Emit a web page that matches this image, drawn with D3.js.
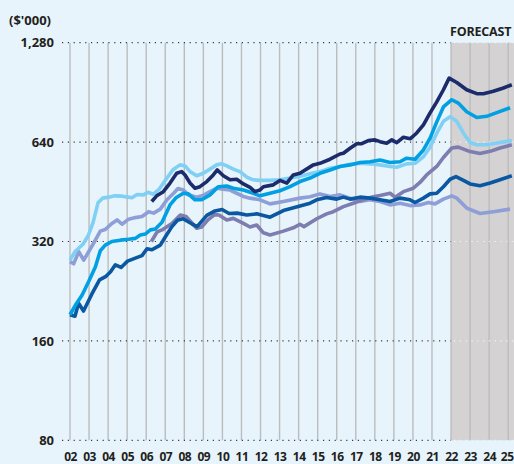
<!DOCTYPE html>
<html>
<head>
<meta charset="utf-8">
<script src="https://cdn.jsdelivr.net/npm/d3@7"></script>
<style>
  html, body { margin:0; padding:0; background:#e8f4fc; }
  svg text { font-family:"Open Sans", "DejaVu Sans", sans-serif; font-weight:700; fill:#231f20; }
</style>
</head>
<body>
<div id="chart"></div>
<script>
// values, [year, $'000]
var years=d3.range(2002,2026);
var yTicks=[80,160,320,640,1280];
var forecastStart=2022;

var navy=[[2006.29,423],[2006.55,440],[2006.9,453],[2007.25,481],[2007.6,515],[2007.86,521],[2008.04,509],[2008.3,481],[2008.56,464],[2008.82,469],[2009.18,486],[2009.52,509],[2009.73,527],[2010.05,506],[2010.4,492],[2010.75,494],[2011.1,478],[2011.45,467],[2011.71,453],[2011.97,458],[2012.15,469],[2012.67,475],[2013.02,490],[2013.38,481],[2013.72,509],[2014.07,515],[2014.77,546],[2015.12,552],[2015.65,568],[2016.17,589],[2016.35,592],[2016.7,613],[2017.05,633],[2017.31,633],[2017.66,647],[2018.01,650],[2018.27,642],[2018.62,635],[2018.89,650],[2019.15,638],[2019.5,662],[2019.85,655],[2020.2,682],[2020.55,722],[2020.9,785],[2021.25,847],[2021.6,922],[2021.9,1000],[2022.3,970],[2022.82,922],[2023.35,897],[2023.7,897],[2024.22,912],[2024.75,933],[2025.19,955]];

var brightBlue=[[2002,192],[2002.28,205],[2002.63,220],[2002.98,242],[2003.33,268],[2003.59,300],[2003.85,312],[2004.2,320],[2004.64,323],[2005.08,325],[2005.43,327],[2005.69,335],[2005.95,337],[2006.22,347],[2006.48,349],[2006.83,366],[2007.25,413],[2007.56,434],[2007.95,448],[2008.21,446],[2008.56,428],[2008.91,428],[2009.35,443],[2009.78,469],[2010.23,471],[2010.57,464],[2011.1,458],[2011.62,448],[2011.97,440],[2012.5,448],[2013.02,456],[2013.55,469],[2014.07,486],[2014.6,498],[2015.12,515],[2015.65,527],[2016.17,540],[2016.7,546],[2017.22,555],[2017.75,558],[2018.27,565],[2018.8,555],[2019.32,558],[2019.67,572],[2020.11,568],[2020.55,606],[2020.9,658],[2021.25,737],[2021.6,818],[2022.04,860],[2022.38,840],[2022.82,791],[2023.35,760],[2023.87,766],[2024.4,786],[2025.1,813]];

var skyBlue=[[2002,281],[2002.28,299],[2002.68,314],[2002.95,333],[2003.21,365],[2003.47,419],[2003.71,433],[2004.03,436],[2004.36,440],[2004.73,439],[2005.07,436],[2005.25,434],[2005.52,444],[2005.86,443],[2006.09,451],[2006.38,445],[2006.67,460],[2007.04,494],[2007.42,529],[2007.77,546],[2008.04,542],[2008.3,521],[2008.65,506],[2009,515],[2009.35,530],[2009.7,546],[2009.96,550],[2010.23,542],[2010.57,530],[2010.92,521],[2011.28,501],[2011.62,492],[2011.97,490],[2012.5,490],[2013.02,492],[2013.55,498],[2014.07,504],[2014.6,513],[2015.12,521],[2015.65,533],[2016.17,540],[2016.7,548],[2017.22,552],[2017.75,550],[2018.27,546],[2018.8,540],[2019.15,537],[2019.67,550],[2020.11,552],[2020.55,578],[2020.9,618],[2021.25,681],[2021.6,740],[2021.95,764],[2022.3,740],[2022.65,681],[2023,638],[2023.35,628],[2023.87,628],[2024.57,638],[2025.19,647]];

var periwinkle=[[2002,278],[2002.19,274],[2002.46,298],[2002.72,281],[2002.98,298],[2003.33,323],[2003.59,344],[2003.85,348],[2004.2,363],[2004.47,372],[2004.73,361],[2005.08,374],[2005.43,378],[2005.78,381],[2006.13,394],[2006.39,390],[2006.74,401],[2007.09,428],[2007.44,448],[2007.67,463],[2007.95,458],[2008.21,443],[2008.65,436],[2008.98,441],[2009.35,453],[2009.7,464],[2010.05,461],[2010.4,458],[2010.75,448],[2011.1,438],[2011.45,433],[2011.97,428],[2012.5,416],[2013.2,423],[2014.07,433],[2014.6,437],[2015.12,446],[2015.65,438],[2016.17,443],[2016.7,433],[2017.22,423],[2017.75,428],[2018.27,423],[2018.8,413],[2019.32,418],[2019.85,411],[2020.37,413],[2020.81,420],[2021.16,416],[2021.6,430],[2022.04,440],[2022.3,433],[2022.82,404],[2023.52,389],[2024.22,394],[2025.1,401]];

var midBlue=[[2002,192],[2002.26,190],[2002.45,208],[2002.71,197],[2003.15,222],[2003.55,245],[2003.89,251],[2004.13,259],[2004.38,272],[2004.68,267],[2005.02,279],[2005.43,285],[2005.78,290],[2006.04,304],[2006.3,302],[2006.74,312],[2007.04,333],[2007.35,355],[2007.64,371],[2007.93,375],[2008.39,362],[2008.67,355],[2009.18,384],[2009.61,396],[2009.98,400],[2010.35,389],[2010.77,390],[2011.28,385],[2011.8,388],[2012.5,379],[2013.2,397],[2014.07,410],[2014.6,418],[2014.95,428],[2015.47,435],[2016,430],[2016.35,436],[2016.7,430],[2017.22,436],[2017.75,433],[2018.27,428],[2018.8,423],[2019.32,433],[2019.85,428],[2020.11,420],[2020.55,433],[2020.9,446],[2021.25,448],[2021.6,469],[2021.95,494],[2022.26,503],[2022.65,490],[2023,478],[2023.52,472],[2024.05,481],[2024.57,492],[2025.19,506]];

var greyPurple=[[2006.27,320],[2006.57,342],[2006.83,347],[2007.35,363],[2007.79,385],[2008.09,381],[2008.65,351],[2008.91,354],[2009.24,372],[2009.59,386],[2009.82,385],[2010.23,372],[2010.57,376],[2011.1,363],[2011.45,354],[2011.8,359],[2012.15,340],[2012.5,335],[2013.2,344],[2013.72,352],[2014.07,361],[2014.28,355],[2014.95,375],[2015.47,388],[2015.82,394],[2016.35,408],[2016.87,418],[2017.4,429],[2017.92,437],[2018.27,441],[2018.8,448],[2019.06,436],[2019.5,453],[2020.02,464],[2020.37,483],[2020.72,509],[2021.25,540],[2021.6,575],[2022.04,614],[2022.38,618],[2023,599],[2023.52,591],[2024.05,600],[2024.57,614],[2025.19,628]];

var series=[
	{data:periwinkle,color:"#8e9ed6"},
	{data:greyPurple,color:"#7d7db0"},
	{data:midBlue,color:"#0b58a2"},
	{data:skyBlue,color:"#7fd0f4"},
	{data:brightBlue,color:"#00a0e2"},
	{data:navy,color:"#1b2b6c"}
];

var WIDTH=514,
	HEIGHT=464;

var svg=d3.select("#chart")
			.append("svg")
				.attr("width",WIDTH)
				.attr("height",HEIGHT);

var x=d3.scaleLinear().domain([2002,2025]).range([70,508.2]);
var y=d3.scaleLog().base(2).domain([80,1280]).range([440.3,42.7]);

svg.append("rect")
	.attr("width",WIDTH).attr("height",HEIGHT)
	.attr("fill","#e8f4fc");

// forecast band
svg.append("rect")
	.attr("x",x(forecastStart))
	.attr("y",y(1280))
	.attr("width",WIDTH-x(forecastStart))
	.attr("height",y(80)-y(1280))
	.attr("fill","#d4d2d2");

// year grid
svg.append("g").selectAll("line")
	.data(years)
	.enter()
		.append("line")
			.attr("x1",function(d){return x(d);})
			.attr("x2",function(d){return x(d);})
			.attr("y1",y(1280))
			.attr("y2",y(80))
			.attr("stroke","#bcbcbc")
			.attr("stroke-width",1.4);

// dotted value grid, light inside the forecast band
var hg=svg.append("g");
hg.selectAll("line.dark")
	.data(yTicks)
	.enter()
		.append("line")
			.attr("class","dark")
			.attr("x1",62)
			.attr("x2",x(forecastStart))
			.attr("y1",function(d){return y(d);})
			.attr("y2",function(d){return y(d);})
			.attr("stroke","#3a3a3a")
			.attr("stroke-width",1.2)
			.attr("stroke-dasharray","1.2,4.6");
hg.selectAll("line.light")
	.data(yTicks)
	.enter()
		.append("line")
			.attr("class","light")
			.attr("x1",x(forecastStart)+3)
			.attr("x2",WIDTH)
			.attr("y1",function(d){return y(d);})
			.attr("y2",function(d){return y(d);})
			.attr("stroke","#f4f4f4")
			.attr("stroke-width",1.2)
			.attr("stroke-dasharray","1.2,4.6");

var line=d3.line()
	.x(function(d){return x(d[0]);})
	.y(function(d){return y(d[1]);});

svg.append("g").selectAll("path")
	.data(series)
	.enter()
		.append("path")
			.attr("d",function(d){return line(d.data);})
			.attr("fill","none")
			.attr("stroke",function(d){return d.color;})
			.attr("stroke-width",3.6)
			.attr("stroke-linejoin","round")
			.attr("stroke-linecap","butt");

// axes
var yAxis=d3.axisLeft(y)
	.tickValues(yTicks)
	.tickFormat(d3.format(","))
	.tickSize(0)
	.tickPadding(8);
var ya=svg.append("g").attr("transform","translate(62,0)").call(yAxis);
ya.select(".domain").remove();
ya.selectAll("text").style("font-size","13px").attr("fill","#231f20");

var xAxis=d3.axisBottom(x)
	.tickValues(years)
	.tickFormat(function(d){return d3.format("02d")(d%100);})
	.tickSize(0)
	.tickPadding(12);
var xa=svg.append("g").attr("transform","translate(0,"+y(80)+")").call(xAxis);
xa.select(".domain").remove();
xa.selectAll("text").style("font-size","12px").style("letter-spacing","-0.5px").attr("fill","#231f20");
// last label sits against the right edge
xa.selectAll(".tick").filter(function(d){return d===2025;}).select("text").attr("x",-1.5);

svg.append("text")
	.attr("x",9)
	.attr("y",25)
	.style("font-size","13px")
	.text("($'000)");

svg.append("text")
	.attr("x",x(forecastStart)-1)
	.attr("y",36)
	.style("font-size","12.5px")
	.style("letter-spacing","-0.2px")
	.text("FORECAST");
</script>
</body>
</html>
